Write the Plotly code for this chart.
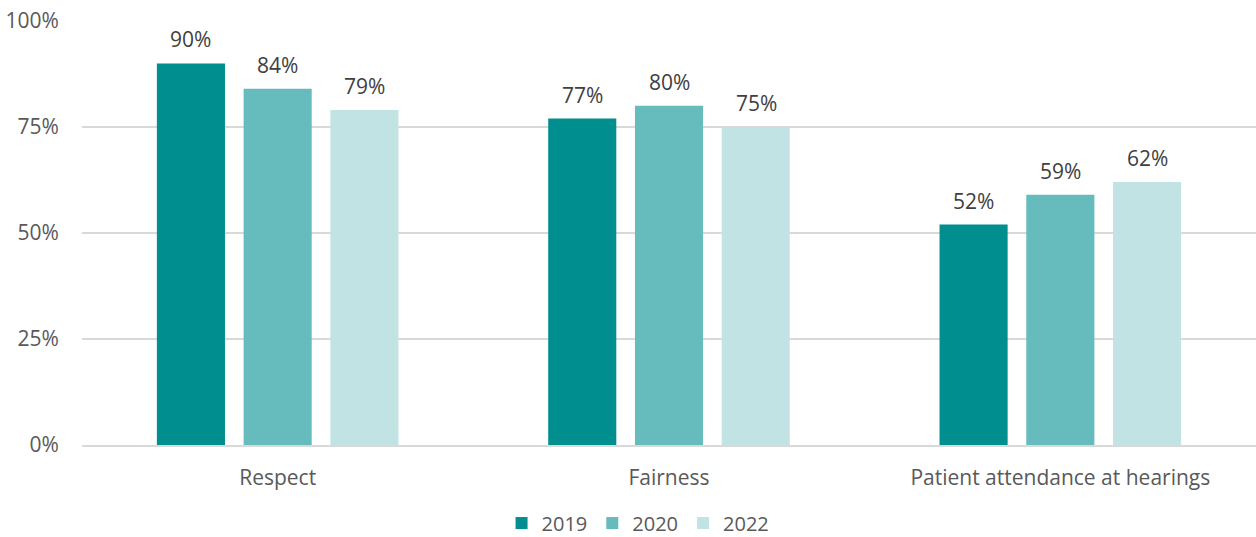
import plotly.graph_objects as go

categories = ["Respect", "Fairness", "Patient attendance at hearings"]
years = ["2019", "2020", "2022"]
values_2019 = [0.90, 0.77, 0.52]
values_2020 = [0.84, 0.80, 0.59]
values_2022 = [0.79, 0.75, 0.62]
colors = ["#008E8E", "#66BBBD", "#C2E3E3"]

FONT = "Open Sans, Liberation Sans, sans-serif"
series = [values_2019, values_2020, values_2022]

fig = go.Figure()
for name, vals, col in zip(years, series, colors):
    fig.add_trace(go.Bar(
        name=name, x=categories, y=vals,
        marker=dict(color=col, line=dict(width=0)),
        hoverinfo="skip",
    ))

# value labels above each bar, shifted to the bar's slot within its group
slot_shift = [-87, 0, 87]
for shift, vals in zip(slot_shift, series):
    for cat, v in zip(categories, vals):
        fig.add_annotation(
            x=cat, y=v, xref="x", yref="y",
            text=f"{v:.0%}", showarrow=False,
            xshift=shift, yshift=24, yanchor="middle",
            font=dict(family=FONT, size=21, color="#404040"),
        )

fig.update_layout(
    width=1256, height=537,
    margin=dict(l=82, r=0, t=21, b=92, autoexpand=False),
    paper_bgcolor="white", plot_bgcolor="white",
    barmode="group", bargap=0.335, bargroupgap=0.215,
    font=dict(family=FONT, size=21, color="#595959"),
    showlegend=True,
    legend=dict(orientation="h", xref="container", yref="container",
                x=0.508, xanchor="center", y=0.026, yanchor="middle",
                font=dict(family=FONT, size=20, color="#595959"),
                itemwidth=30, traceorder="normal"),
)
fig.update_xaxes(
    showline=True, linecolor="#D9D9D9", linewidth=2,
    ticks="outside", ticklen=13, tickcolor="rgba(0,0,0,0)",
    tickfont=dict(family=FONT, size=21, color="#595959"),
)
fig.update_yaxes(
    range=[0, 1], tickvals=[0, 0.25, 0.5, 0.75, 1.0], tickformat=".0%",
    showgrid=True, gridcolor="#D9D9D9", gridwidth=1.5, zeroline=False,
    ticks="outside", ticklen=18, tickcolor="rgba(0,0,0,0)",
    tickfont=dict(family=FONT, size=21, color="#595959"),
)

fig.write_html("out.html")
